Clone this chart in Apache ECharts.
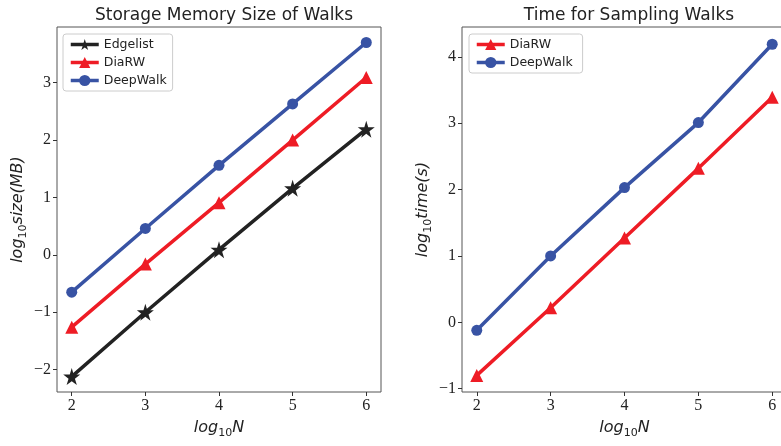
<!DOCTYPE html>
<html>
<head>
<meta charset="utf-8">
<script src="https://cdn.jsdelivr.net/npm/echarts@6/dist/echarts.min.js"></script>
<style>
  html, body { margin: 0; padding: 0; background: #fff; }
  #chart { width: 781px; height: 446px; }
</style>
</head>
<body>
<div id="chart"></div>
<script>
// log10 N
const logN = [2, 3, 4, 5, 6];
const xTicks = [2, 3, 4, 5, 6];

// storage size (log10 MB)
const sizeEdgelist = [-2.12, -1.0, 0.09, 1.16, 2.19];
const sizeDiaRW = [-1.26, -0.16, 0.91, 2.0, 3.09];
const sizeDeepWalk = [-0.65, 0.46, 1.56, 2.63, 3.70];
const sizeTicks = [-2, -1, 0, 1, 2, 3];

// sampling time (log10 s)
const timeDiaRW = [-0.80, 0.22, 1.27, 2.32, 3.39];
const timeDeepWalk = [-0.12, 1.0, 2.03, 3.01, 4.19];
const timeTicks = [-1, 0, 1, 2, 3, 4];

const BLUE = '#3853a4';
const RED = '#ee1c25';
const BLACK = '#222222';
const STAR = 'path://M50,0 L61,35 L98,35 L68,57 L79,91 L50,70 L21,91 L32,57 L2,35 L39,35 Z';

const pairs = (ys) => logN.map((x, i) => [x, ys[i]]);
const minus = (v) => String(v).replace('-', '\u2212');

const serifLabel = {
  fontFamily: 'Liberation Serif',
  fontSize: 16,
  color: '#222',
  formatter: minus
};
const nameRich = {
  i: { fontFamily: 'DejaVu Sans', fontStyle: 'italic', fontSize: 16, color: '#222' },
  s: { fontFamily: 'DejaVu Sans', fontSize: 11, color: '#222', verticalAlign: 'bottom', padding: [12, 0, 0, 0] }
};

function xAxis(gridIndex) {
  return {
    type: 'value', gridIndex, min: 1.8, max: 6.2,
    name: '{i|log}{s|10}{i|N}', nameLocation: 'middle', nameGap: 24,
    nameTextStyle: { rich: nameRich },
    axisLine: { show: false, onZero: false },
    axisTick: { show: true, customValues: xTicks, length: 4, lineStyle: { color: '#333' } },
    axisLabel: Object.assign({ customValues: xTicks, margin: 6 }, serifLabel),
    splitLine: { show: false }
  };
}
function yAxis(gridIndex, min, max, ticks, name, gap) {
  return {
    type: 'value', gridIndex, min, max,
    name, nameLocation: 'middle', nameGap: gap, nameRotate: 90,
    nameTextStyle: { rich: nameRich },
    axisLine: { show: false, onZero: false },
    axisTick: { show: true, customValues: ticks, length: 4, lineStyle: { color: '#333' } },
    axisLabel: Object.assign({ customValues: ticks, margin: 6 }, serifLabel),
    splitLine: { show: false }
  };
}
function line(name, ys, color, symbol, size, idx) {
  return {
    name, type: 'line', data: pairs(ys),
    xAxisIndex: idx, yAxisIndex: idx,
    symbol, symbolSize: size,
    lineStyle: { color, width: 3.5 },
    itemStyle: { color },
    emphasis: { disabled: true }
  };
}
const legendStyle = {
  orient: 'vertical', itemWidth: 28, itemHeight: 14, itemGap: 5,
  padding: [4, 6, 4, 6],
  borderColor: '#cccccc', borderWidth: 1, borderRadius: 3,
  backgroundColor: '#fff',
  lineStyle: { width: 3.5 },
  textStyle: { fontFamily: 'DejaVu Sans', fontSize: 12.5, color: '#222' }
};

const chart = echarts.init(document.getElementById('chart'));
chart.setOption({
  animation: false,
  title: [
    { text: 'Storage Memory Size of Walks', left: 219, top: 2, textAlign: 'center',
      textStyle: { fontFamily: 'DejaVu Sans', fontWeight: 'normal', fontSize: 17, color: '#222' } },
    { text: 'Time for Sampling Walks', left: 624, top: 2, textAlign: 'center',
      textStyle: { fontFamily: 'DejaVu Sans', fontWeight: 'normal', fontSize: 17, color: '#222' } }
  ],
  legend: [
    Object.assign({ left: 63, top: 34, data: ['Edgelist', 'DiaRW', 'DeepWalk'] }, legendStyle),
    Object.assign({ left: 469, top: 34, data: ['DiaRW ', 'DeepWalk '] }, legendStyle)
  ],
  grid: [
    { left: 57, top: 27, width: 324, height: 365, show: true, borderColor: '#555', borderWidth: 1,
      outerBoundsMode: 'none', containLabel: false },
    { left: 462, top: 27, width: 325, height: 365, show: true, borderColor: '#555', borderWidth: 1,
      outerBoundsMode: 'none', containLabel: false }
  ],
  xAxis: [xAxis(0), xAxis(1)],
  yAxis: [
    yAxis(0, -2.389, 3.97, sizeTicks, '{i|log}{s|10}{i|size(MB)}', 28),
    yAxis(1, -1.05, 4.45, timeTicks, '{i|log}{s|10}{i|time(s)}', 28)
  ],
  series: [
    line('Edgelist', sizeEdgelist, BLACK, STAR, 17, 0),
    line('DiaRW', sizeDiaRW, RED, 'triangle', 13, 0),
    line('DeepWalk', sizeDeepWalk, BLUE, 'circle', 11, 0),
    line('DiaRW ', timeDiaRW, RED, 'triangle', 13, 1),
    line('DeepWalk ', timeDeepWalk, BLUE, 'circle', 11, 1)
  ]
});
</script>
</body>
</html>
